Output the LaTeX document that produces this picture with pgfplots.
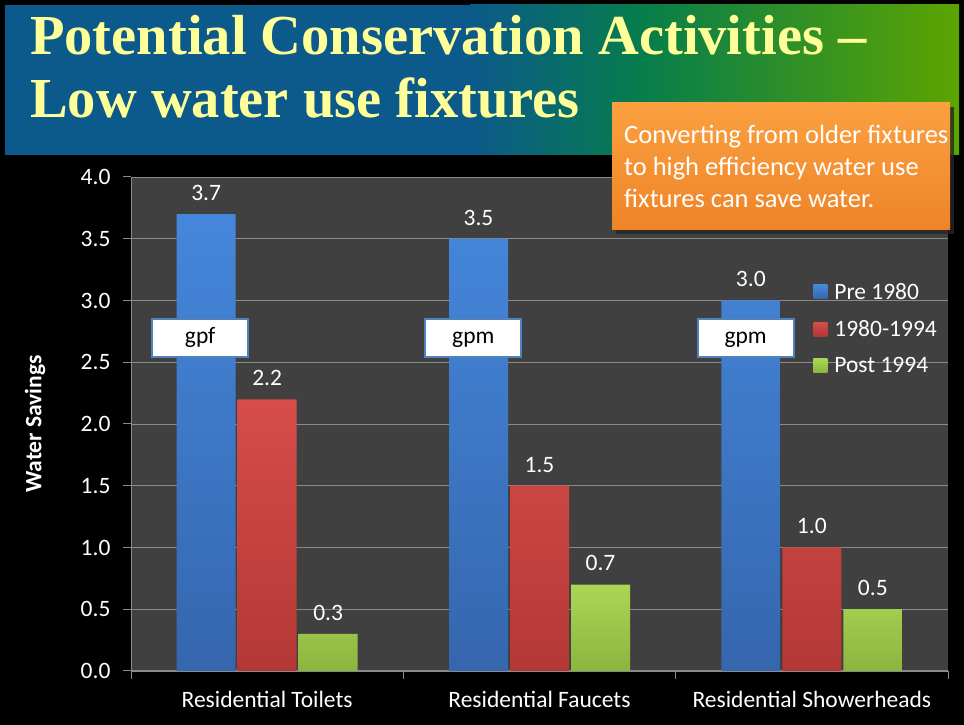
\documentclass[border=0pt]{standalone}
\usepackage{pgfplots}
\pgfplotsset{compat=1.18}
\usepackage{fontspec}
\setmainfont{Carlito}
\newfontfamily\titlefont{Liberation Serif}
\definecolor{bannerblue}{HTML}{0C598B}
\definecolor{bannerteal}{HTML}{067D4C}
\definecolor{bannergreen}{HTML}{5CA400}
\definecolor{titleyellow}{HTML}{FFFF99}
\definecolor{plotgray}{HTML}{404040}
\definecolor{gridgray}{HTML}{8A8A8A}
\definecolor{blueT}{HTML}{4587DB}
\definecolor{blueB}{HTML}{3566AE}
\definecolor{redT}{HTML}{D64D49}
\definecolor{redB}{HTML}{B33835}
\definecolor{greenT}{HTML}{ABD654}
\definecolor{greenB}{HTML}{8BB53E}
\definecolor{boxblue}{HTML}{4F81BD}
\definecolor{orT}{HTML}{FBA040}
\definecolor{orB}{HTML}{EE8428}
\newcommand{\cf}{\fontsize{23.5}{27}\selectfont}
\tikzset{gbox/.style={fill=white,draw=boxblue,line width=2pt,minimum width=96pt,minimum height=38pt,
    text height=14pt,text depth=2pt,text=black,font=\cf}}
\begin{document}
\begin{tikzpicture}[x=1pt,y=1pt]
\path[use as bounding box] (0,0) rectangle (964,725);
\fill[black] (0,0) rectangle (964,725);
% banner
\fill[bannerblue] (5,570) rectangle (471,720);
\shade[left color=bannerblue,right color=bannerteal] (470,570) rectangle (641,720);
\shade[left color=bannerteal,right color=bannergreen] (640,570) rectangle (959,720);
\node[anchor=base west,inner sep=0pt,text=titleyellow,font=\titlefont\bfseries\fontsize{56.5}{60}\selectfont] at (30,670) {Potential Conservation Activities –};
\node[anchor=base west,inner sep=0pt,text=titleyellow,font=\titlefont\bfseries\fontsize{56.5}{60}\selectfont] at (30,607) {Low water use fixtures};
% y label
\node[rotate=90,text=white,font=\bfseries\cf] at (35,301) {Water Savings};
\begin{axis}[
  at={(131pt,54pt)}, anchor=south west,
  scale only axis, width=817pt, height=494pt,
  ybar=2pt, bar width=59pt,
  xmin=-0.5, xmax=2.5, ymin=0, ymax=4,
  xtick={-0.5,0.5,1.5,2.5}, xticklabels={},
  extra x ticks={0,1,2},
  extra x tick labels={Residential Toilets,Residential Faucets,Residential Showerheads},
  extra x tick style={major tick length=0pt, xticklabel style={anchor=base, yshift=-37pt}},
  ytick={0,0.5,1,1.5,2,2.5,3,3.5,4},
  yticklabel style={xshift=-9pt,/pgf/number format/.cd,fixed,fixed zerofill,precision=1},
  /pgf/number format/assume math mode=true,
  tick label style={font=\cf, text=white},
  ymajorgrids, grid style={color=gridgray, line width=0.9pt},
  axis lines*=left, axis line style={color=gridgray, line width=1pt},
  tick style={color=gridgray, line width=1pt}, major tick length=8pt, tick align=outside,
  axis background/.style={fill=plotgray},
  point meta=y,
  nodes near coords={\pgfmathprintnumber[fixed,fixed zerofill,precision=1]{\pgfplotspointmeta}},
  nodes near coords style={font=\cf, text=white, yshift=10pt},
  legend style={at={(rel axis cs:0.8313,0.7935)}, anchor=north west, draw=none, fill=none,
    text=white, font=\cf, row sep=15.5pt},
  legend cell align=left,
  legend image code/.code={\path[#1,draw=none] (0pt,-7pt) rectangle (14pt,7pt); \path (0pt,0pt) -- (19pt,0pt);},
]
\addplot[draw=none, top color=blueT, bottom color=blueB] coordinates {(0,3.7) (1,3.5) (2,3.0)};
\addplot[draw=none, top color=redT, bottom color=redB] coordinates {(0,2.2) (1,1.5) (2,1.0)};
\addplot[draw=none, top color=greenT, bottom color=greenB] coordinates {(0,0.3) (1,0.7) (2,0.5)};
\legend{Pre 1980,1980-1994,Post 1994}
\node[gbox] at (axis cs:-0.246,2.70) {gpf};
\node[gbox] at (axis cs:0.757,2.70) {gpm};
\node[gbox] at (axis cs:1.757,2.70) {gpm};
\end{axis}
% callout
\fill[black!70!gray,opacity=0.8] (616,491) rectangle (954,618);
\shade[top color=orT,bottom color=orB] (612,495) rectangle (950,622);
\node[anchor=north west,inner sep=0pt,align=left,text=white,font=\fontsize{26.5}{32}\selectfont] at (624,600) {Converting from older fixtures\\to high efficiency water use\\fixtures can save water.};
\end{tikzpicture}
\end{document}
